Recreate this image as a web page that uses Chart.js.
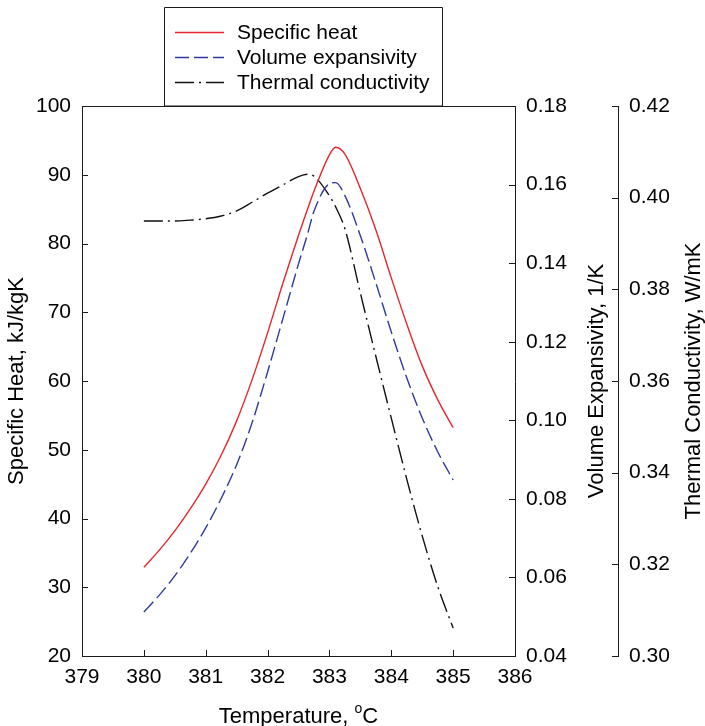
<!DOCTYPE html>
<html><head><meta charset="utf-8">
<script src="https://cdn.jsdelivr.net/npm/chart.js@4"></script>
<style>html,body{margin:0;padding:0;background:#fff}#wrap{width:705px;height:726px;position:relative}</style>
</head><body><div id="wrap"><canvas id="c" width="705" height="726"></canvas></div>
<script>
// ---- data ----
const temperatures = [380, 380.25, 380.5, 380.75, 381, 381.25, 381.5, 381.75, 382, 382.25, 382.5, 382.65, 382.75, 383, 383.1, 383.25, 383.5, 383.75, 384, 384.25, 384.5, 384.75, 385];
const specificHeat = [32.9, 35.4, 38.2, 41.4, 45.0, 49.2, 54.2, 60.2, 67.0, 74.3, 81.2, 85.1, 87.6, 92.9, 94.0, 93.0, 88.0, 82.0, 75.0, 68.3, 62.2, 57.3, 53.2];
const volumeExpansivity = [0.0512, 0.0555, 0.0604, 0.0661, 0.0726, 0.0801, 0.0887, 0.0994, 0.1123, 0.1260, 0.1398, 0.1476, 0.1532, 0.1602, 0.1605, 0.1572, 0.1470, 0.1350, 0.1225, 0.1108, 0.1006, 0.0920, 0.0848];
const thermalConductivity = [0.3949, 0.3949, 0.3949, 0.3951, 0.3954, 0.3960, 0.3971, 0.3990, 0.4010, 0.4028, 0.4046, 0.4051, 0.4047, 0.4004, 0.3980, 0.3932, 0.3792, 0.3654, 0.3519, 0.3386, 0.3262, 0.3152, 0.3061];

const xTicks = [379, 380, 381, 382, 383, 384, 385, 386];
const heatTicks = [20, 30, 40, 50, 60, 70, 80, 90, 100];
const expansivityTicks = [0.04, 0.06, 0.08, 0.10, 0.12, 0.14, 0.16, 0.18];
const conductivityTicks = [0.30, 0.32, 0.34, 0.36, 0.38, 0.40, 0.42];

const seriesLabels = ['Specific heat', 'Volume expansivity', 'Thermal conductivity'];
const xTitleMain = 'Temperature, ';
const xTitleSup = 'o';
const xTitleEnd = 'C';
const heatTitle = 'Specific Heat, kJ/kgK';
const expansivityTitle = 'Volume Expansivity, 1/K';
const conductivityTitle = 'Thermal Conductivity, W/mK';

// ---- styling ----
const FONT = "'Liberation Sans', Arial, Helvetica, sans-serif";
const AXIS = '#1a1a1a';
const RED = '#e8262d';
const BLUE = '#2e3a9c';
const BLACK = '#111111';
const DASH_BLUE = [14, 5];
const DASH_BLACK = [19, 5, 2, 5];
const TICK_SIZE = 21;
const TITLE_SIZE = 22;
const LEGEND_SIZE = 21;

Chart.defaults.font.family = FONT;
Chart.defaults.font.size = TICK_SIZE;
Chart.defaults.color = '#000';

function pts(ys) { return temperatures.map((t, i) => ({x: t, y: ys[i]})); }
function fixTicks(arr) { return s => { s.ticks = arr.map(v => ({value: v})); }; }

const decorations = {
  id: 'decorations',
  afterDraw(chart) {
    const ctx = chart.ctx;
    const {left, right, top, bottom} = chart.chartArea;
    const sx = chart.scales.x, sy = chart.scales.y, s1 = chart.scales.y1, s2 = chart.scales.y2;
    const al = v => Math.round(v) + 0.5;
    ctx.save();
    ctx.strokeStyle = AXIS;
    ctx.lineWidth = 1;
    ctx.setLineDash([]);
    ctx.beginPath();
    ctx.moveTo(Math.round(left), al(top)); ctx.lineTo(Math.round(right) + 1, al(top));
    const T = 6;
    xTicks.forEach(v => { const p = al(sx.getPixelForValue(v)); ctx.moveTo(p, bottom); ctx.lineTo(p, bottom - T); });
    heatTicks.forEach(v => { const p = al(sy.getPixelForValue(v)); ctx.moveTo(left, p); ctx.lineTo(left + T, p); });
    expansivityTicks.forEach(v => { const p = al(s1.getPixelForValue(v)); ctx.moveTo(right, p); ctx.lineTo(right - T, p); });
    conductivityTicks.forEach(v => { const p = al(s2.getPixelForValue(v)); ctx.moveTo(s2.left, p); ctx.lineTo(s2.left - T, p); });
    ctx.stroke();

    // legend box
    const lx = 164.5, ly = 7.5, lw = 278, lh = top - 7.5;
    ctx.beginPath();
    ctx.rect(lx, ly, lw, lh);
    ctx.stroke();
    const rows = [32, 57, 82];
    const styles = [[RED, []], [BLUE, DASH_BLUE], [BLACK, DASH_BLACK]];
    ctx.font = LEGEND_SIZE + 'px ' + FONT;
    ctx.textBaseline = 'middle';
    ctx.textAlign = 'left';
    ctx.fillStyle = '#000';
    rows.forEach((y, i) => {
      ctx.beginPath();
      ctx.strokeStyle = styles[i][0];
      ctx.lineWidth = 1.4;
      ctx.setLineDash(styles[i][1]);
      ctx.moveTo(175, y + 0.5); ctx.lineTo(224, y + 0.5);
      ctx.stroke();
      ctx.fillText(seriesLabels[i], 237, y + 1);
    });
    ctx.setLineDash([]);

    // axis titles
    const cy = (top + bottom) / 2;
    const drawV = (text, x) => {
      ctx.save();
      ctx.translate(x, cy);
      ctx.rotate(-Math.PI / 2);
      ctx.textAlign = 'center';
      ctx.textBaseline = 'middle';
      ctx.fillText(text, 0, 0);
      ctx.restore();
    };
    ctx.font = TITLE_SIZE + 'px ' + FONT;
    drawV(heatTitle, 17);
    drawV(expansivityTitle, s1.right - 21);
    drawV(conductivityTitle, s2.right - 11);

    // x title with superscript
    const w1 = ctx.measureText(xTitleMain).width;
    ctx.font = '14px ' + FONT;
    const w2 = ctx.measureText(xTitleSup).width;
    ctx.font = TITLE_SIZE + 'px ' + FONT;
    const w3 = ctx.measureText(xTitleEnd).width;
    const cx = (left + right) / 2;
    let x0 = cx - (w1 + w2 + w3) / 2;
    const by = 723;
    ctx.textAlign = 'left';
    ctx.textBaseline = 'alphabetic';
    ctx.fillText(xTitleMain, x0, by);
    ctx.font = '14px ' + FONT;
    ctx.fillText(xTitleSup, x0 + w1, by - 10);
    ctx.font = TITLE_SIZE + 'px ' + FONT;
    ctx.fillText(xTitleEnd, x0 + w1 + w2, by);
    ctx.restore();
  }
};

const gridOpts = {drawOnChartArea: false, drawTicks: false};
const borderOpts = {display: true, color: AXIS, width: 1};

new Chart(document.getElementById('c'), {
  type: 'line',
  data: {
    datasets: [
      {label: seriesLabels[0], data: pts(specificHeat), yAxisID: 'y', borderColor: RED, borderWidth: 1.4, pointRadius: 0, fill: false, cubicInterpolationMode: 'monotone'},
      {label: seriesLabels[1], data: pts(volumeExpansivity), yAxisID: 'y1', borderColor: BLUE, borderWidth: 1.4, borderDash: DASH_BLUE, pointRadius: 0, fill: false, cubicInterpolationMode: 'monotone'},
      {label: seriesLabels[2], data: pts(thermalConductivity), yAxisID: 'y2', borderColor: BLACK, borderWidth: 1.4, borderDash: DASH_BLACK, pointRadius: 0, fill: false, cubicInterpolationMode: 'monotone'}
    ]
  },
  options: {
    responsive: false,
    animation: false,
    devicePixelRatio: 1,
    layout: {padding: {top: 106, left: 0, right: 0, bottom: 0}},
    plugins: {legend: {display: false}, tooltip: {enabled: false}},
    scales: {
      x: {
        type: 'linear', position: 'bottom', min: 379, max: 386,
        afterBuildTicks: fixTicks(xTicks),
        afterFit: s => { s.height = 70; },
        grid: gridOpts, border: borderOpts,
        ticks: {padding: 9, maxRotation: 0, autoSkip: false, callback: v => String(v)}
      },
      y: {
        type: 'linear', position: 'left', min: 20, max: 100,
        afterBuildTicks: fixTicks(heatTicks),
        afterFit: s => { s.width = 82; },
        grid: gridOpts, border: borderOpts,
        ticks: {padding: 11, autoSkip: false, callback: v => String(v)}
      },
      y1: {
        type: 'linear', position: 'right', min: 0.04, max: 0.18, weight: 0,
        afterBuildTicks: fixTicks(expansivityTicks),
        afterFit: s => { s.width = 103; },
        grid: gridOpts, border: borderOpts,
        ticks: {padding: 11, autoSkip: false, callback: v => v.toFixed(2)}
      },
      y2: {
        type: 'linear', position: 'right', min: 0.30, max: 0.42, weight: 1,
        afterBuildTicks: fixTicks(conductivityTicks),
        afterFit: s => { s.width = 87; },
        grid: gridOpts, border: borderOpts,
        ticks: {padding: 11, autoSkip: false, callback: v => v.toFixed(2)}
      }
    }
  },
  plugins: [decorations]
});
</script>
</body></html>
